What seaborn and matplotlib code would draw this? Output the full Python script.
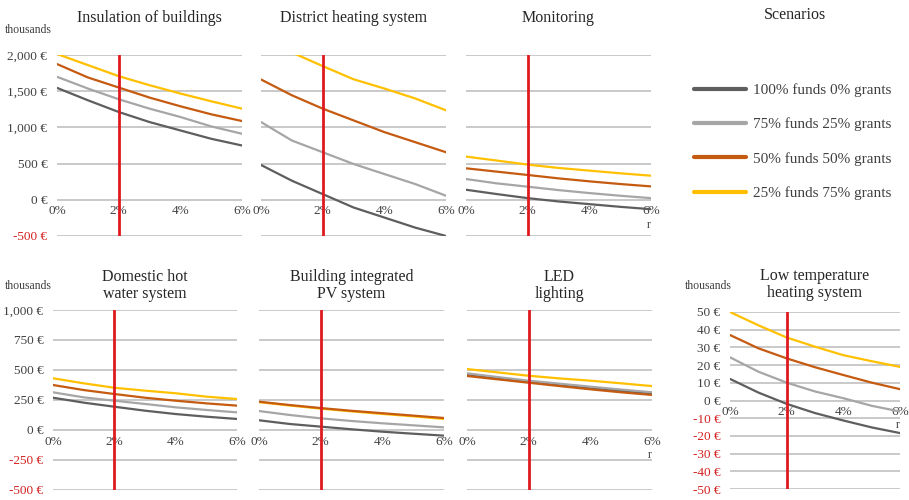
import pandas as pd
import matplotlib.pyplot as plt
import seaborn as sns
from matplotlib.lines import Line2D

# Net present value (thousands of euro) vs discount rate r, for 4 funding scenarios
rates = [0, 1, 2, 3, 4, 5, 6]
ref_rate = 2
scenarios = ["100% funds 0% grants", "75% funds 25% grants",
             "50% funds 50% grants", "25% funds 75% grants"]
colors = ["#5e5e5e", "#a6a6a6", "#c55a11", "#ffc000"]

# each panel: [100/0, 75/25, 50/50, 25/75]
insulation = [[1546, 1375, 1213, 1074, 958, 843, 750],
              [1699, 1537, 1389, 1259, 1144, 1014, 912],
              [1875, 1690, 1551, 1412, 1292, 1181, 1088],
              [2014, 1861, 1708, 1583, 1468, 1361, 1259]]
district = [[481, 264, 79, -106, -245, -384, -500],
            [1074, 819, 657, 495, 356, 218, 56],
            [1662, 1444, 1259, 1097, 935, 796, 657],
            [2250, 2035, 1847, 1665, 1537, 1400, 1236]]
monitoring = [[139, 79, 23, -23, -60, -97, -130],
              [287, 227, 181, 134, 93, 56, 23],
              [435, 389, 343, 296, 255, 218, 185],
              [597, 542, 486, 440, 403, 366, 333]]
hot_water = [[269, 228, 194, 161, 133, 111, 92],
             [314, 272, 244, 217, 189, 167, 147],
             [375, 333, 300, 269, 244, 222, 203],
             [431, 389, 352, 328, 306, 278, 258]]
bipv = [[81, 50, 28, 6, -14, -31, -47],
        [158, 125, 97, 75, 56, 39, 22],
        [236, 208, 183, 160, 140, 120, 100],
        [232, 204, 178, 155, 134, 114, 92]]
led = [[458, 429, 400, 373, 347, 326, 306],
       [472, 441, 411, 386, 361, 337, 314],
       [450, 422, 394, 366, 339, 314, 292],
       [508, 480, 452, 430, 411, 389, 366]]
low_temp = [[12.2, 4.5, -1.9, -7.1, -11.3, -15.2, -18.4],
            [24.4, 16.3, 10.1, 5.1, 1.3, -3.0, -6.2],
            [37.0, 29.5, 23.8, 18.8, 14.4, 10.1, 6.4],
            [50.0, 42.5, 35.6, 30.4, 25.6, 22.2, 19.0]]

big_ticks = [-500, 0, 500, 1000, 1500, 2000]
mid_ticks = [-500, -250, 0, 250, 500, 750, 1000]
small_ticks = [-50, -40, -30, -20, -10, 0, 10, 20, 30, 40, 50]

sns.set_style("white")
plt.rcParams['font.family'] = ['Liberation Serif', 'DejaVu Serif']

W, H = 909, 500
fig = plt.figure(figsize=(W / 100, H / 100), dpi=100)


def px_rect(x0, x1, y0, y1):
    return [x0 / W, 1 - y1 / H, (x1 - x0) / W, (y1 - y0) / H]


panels = [
    ("Insulation of buildings", insulation, big_ticks, True, False, px_rect(57, 242, 55, 236), 24),
    ("District heating system", district, big_ticks, False, False, px_rect(261, 446, 55, 236), 24),
    ("Monitoring", monitoring, big_ticks, False, True, px_rect(466, 651, 55, 236), 24),
    ("Domestic hot\nwater system", hot_water, mid_ticks, True, False, px_rect(53, 237, 310, 490), 9),
    ("Building integrated\nPV system", bipv, mid_ticks, False, False, px_rect(259, 444, 310, 490), 9),
    ("LED\nlighting", led, mid_ticks, False, True, px_rect(467, 652, 310, 490), 9),
    ("Low temperature\nheating system", low_temp, small_ticks, True, True, px_rect(730, 900, 312, 489), 11),
]

draw_order = [scenarios[0], scenarios[1], scenarios[3], scenarios[2]]
palette = dict(zip(scenarios, colors))

for title, series, yticks, show_y, show_r, rect, tpad in panels:
    ax = fig.add_axes(rect)
    df = pd.DataFrame({
        "rate": rates * len(scenarios),
        "value": [v for s in series for v in s],
        "scenario": [sc for sc in scenarios for _ in rates],
    })
    sns.lineplot(data=df, x="rate", y="value", hue="scenario", hue_order=draw_order,
                 palette=palette, linewidth=1.6, legend=False, ax=ax, zorder=3)
    ax.axvline(ref_rate, color="#e0191f", lw=2, zorder=4)
    ax.set_xlim(rates[0], rates[-1])
    ax.set_ylim(yticks[0], yticks[-1])
    ax.yaxis.grid(True, color="#c0c0c0", lw=1.2, zorder=0)
    ax.xaxis.grid(False)
    for sp in ax.spines.values():
        sp.set_visible(False)
    ax.spines['bottom'].set_position(('data', 0))

    ax.set_xticks([0, 2, 4, 6], labels=["0%", "2%", "4%", "6%"])
    ax.tick_params(axis='x', length=0, pad=4, labelsize=9.5, labelcolor="#404040")
    if show_y:
        labels = [f"{v:,} €" for v in yticks]
        ax.set_yticks(yticks, labels=labels)
        for lbl, v in zip(ax.get_yticklabels(), yticks):
            lbl.set_color("#d42020" if v < 0 else "#404040")
    else:
        ax.set_yticks(yticks, labels=[])
    ax.tick_params(axis='y', length=0, pad=7, labelsize=9.5)
    ax.set_ylabel("")
    ax.set_xlabel("r" if show_r else "", loc="right", labelpad=1, fontsize=8.5, color="#404040")
    ax.set_title(title, fontsize=11.5, color="#262626", pad=tpad, linespacing=1.05)

# "thousands" unit notes
for x, y in [(5, 30), (5, 286), (685, 286)]:
    fig.text(x / W, 1 - y / H, "thousands", fontsize=8.5, color="#404040", va="center")

# legend panel
lax = fig.add_axes(px_rect(680, 909, 55, 236))
lax.axis("off")
fig.text(795 / W, 1 - 15 / H, "Scenarios", fontsize=11.5, color="#262626", ha="center", va="center")
handles = [Line2D([0], [0], color=c, lw=3) for c in colors]
lax.legend(handles, scenarios, loc="upper left", bbox_to_anchor=(0.0, 0.92), frameon=False,
           fontsize=11, handlelength=3.4, handletextpad=0.5, labelspacing=1.35,
           labelcolor="#404040")

fig.savefig("out.png", dpi=100)
